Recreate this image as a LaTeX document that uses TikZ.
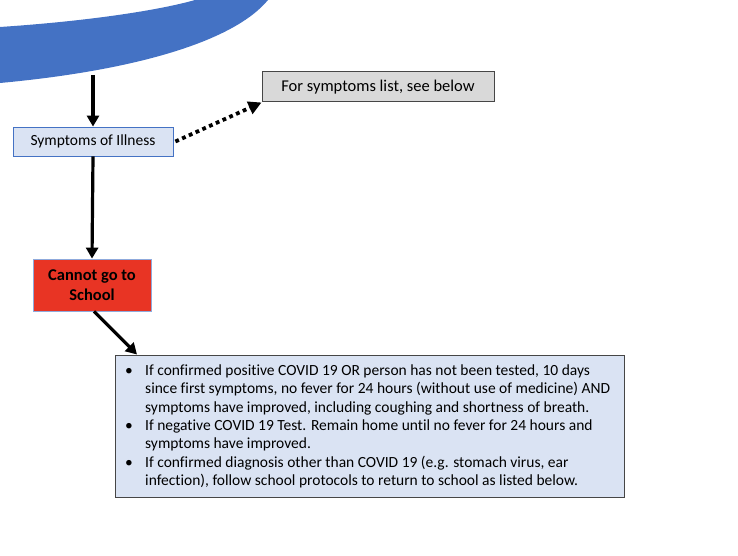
\documentclass[tikz,border=0pt]{standalone}
\usepackage{fontspec}
\setmainfont{Carlito}[Ligatures=NoCommon]
\usetikzlibrary{arrows.meta}
\definecolor{arcblue}{RGB}{68,114,196}
\definecolor{lightfill}{RGB}{218,227,243}
\definecolor{boxred}{RGB}{232,52,36}
\definecolor{redborder}{RGB}{143,170,220}
\definecolor{grayfill}{RGB}{217,217,217}
\definecolor{darkedge}{RGB}{70,70,70}
\tikzset{
  blueedge/.style={draw=arcblue, line width=0.8pt, fill=lightfill, inner sep=0pt},
  grayedge/.style={draw=darkedge, line width=1pt, inner sep=0pt},
  flowarrow/.style={line width=3.2pt, -{Triangle[length=11pt,width=12pt]}},
  dotarrow/.style={line width=3.8pt, dash pattern=on 3.8pt off 3.6pt, -{Triangle[length=13pt,width=13pt]}},
}
\begin{document}
\begin{tikzpicture}[x=1pt,y=-1pt]
\useasboundingbox (0,0) rectangle (738,556);
% blue arc
\fill[arcblue] (0,27) .. controls (90,21) and (160,10) .. (195,0) -- (268,0)
  .. controls (235,40) and (140,70) .. (0,83) -- cycle;
\coordinate (arcbottom) at (93,75);
% nodes
\node[blueedge, minimum width=160pt, minimum height=29pt, font=\fontsize{15.5}{17}\selectfont] (sym) at (93,141.5) {Symptoms of Illness};
\node[grayedge, fill=grayfill, minimum width=232pt, minimum height=30pt, font=\fontsize{16.5}{19}\selectfont] (list) at (378,87) {For symptoms list, see below};
\node[draw=redborder, line width=0.8pt, fill=boxred, inner sep=0pt, minimum width=118pt, minimum height=52pt, align=center, font=\fontsize{16.5}{20}\selectfont\bfseries] (cannot) at (92,285) {Cannot go to\\School};
\node[grayedge, fill=lightfill, minimum width=509pt, minimum height=142pt] (rules) at (369.5,426) {};
\node[anchor=north west, inner sep=0pt, font=\fontsize{15.5}{18.3}\selectfont] (rulestext) at (125,362.5) {%
\renewcommand{\arraystretch}{1}%
\begin{tabular}{@{}p{7pt}@{\hspace{13pt}}l@{}}
\textbullet & If confirmed positive COVID 19 OR person has not been tested, 10 days\\
 & since first symptoms, no fever for 24 hours (without use of medicine) AND\\
 & symptoms have improved, including coughing and shortness of breath.\\
\textbullet & If negative COVID 19 Test. Remain home until no fever for 24 hours and\\
 & symptoms have improved.\\
\textbullet & If confirmed diagnosis other than COVID 19 (e.g. stomach virus, ear\\
 & infection), follow school protocols to return to school as listed below.
\end{tabular}};
% connectors
\draw[flowarrow] (arcbottom) -- (sym.north);
\draw[flowarrow] (sym.south) -- (cannot.north);
\draw[flowarrow] (cannot.south) ++(2,0) coordinate (cs) -- (rules.north west -| 137,0) ;
\draw[dotarrow] (sym.east) ++(2,0) -- (list.south west);
\end{tikzpicture}
\end{document}
